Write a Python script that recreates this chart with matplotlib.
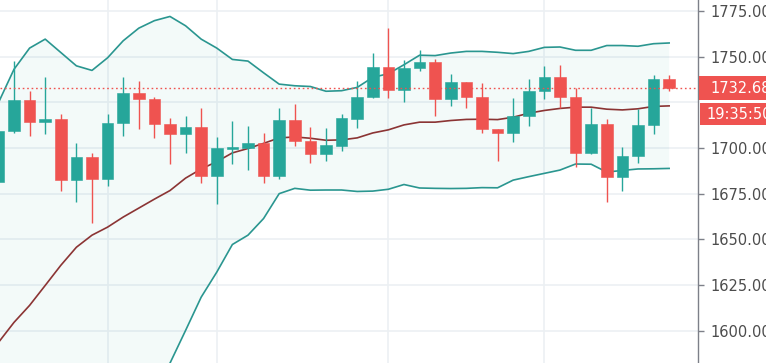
import matplotlib
matplotlib.use("Agg")
import matplotlib.pyplot as plt
from matplotlib.patches import Rectangle
import numpy as np

# ---------------- data ----------------
opens = [1681.5, 1709.3, 1726.3, 1714.1, 1715.9, 1682.6, 1695.1, 1683.2, 1713.9, 1730.0,
         1726.9, 1713.3, 1707.7, 1711.4, 1684.6, 1699.6, 1700.0, 1702.9, 1684.6, 1715.4,
         1703.8, 1696.5, 1701.1, 1715.9, 1727.8, 1744.3, 1731.7, 1743.7, 1747.2, 1726.7,
         1735.8, 1727.8, 1710.4, 1708.4, 1717.4, 1731.3, 1738.8, 1727.6, 1697.4, 1713.2,
         1683.9, 1695.8, 1712.8, 1737.7]
highs = [1712.0, 1747.3, 1730.9, 1738.8, 1718.5, 1702.6, 1697.4, 1718.5, 1738.8, 1736.4,
         1728.1, 1716.3, 1717.6, 1721.8, 1705.9, 1715.0, 1712.1, 1708.1, 1721.8, 1724.0,
         1711.7, 1710.8, 1718.5, 1736.4, 1751.9, 1765.7, 1747.9, 1753.8, 1748.8, 1740.4,
         1736.0, 1735.5, 1710.6, 1727.3, 1737.9, 1745.0, 1745.5, 1732.7, 1721.8, 1715.7,
         1700.4, 1721.2, 1740.0, 1740.0]
lows = [1680.0, 1708.0, 1706.6, 1707.5, 1676.6, 1670.5, 1659.0, 1679.3, 1706.6, 1710.3,
        1705.6, 1691.1, 1697.1, 1681.0, 1669.1, 1691.1, 1687.9, 1681.0, 1683.2, 1701.1,
        1691.6, 1693.0, 1698.5, 1710.8, 1727.5, 1727.3, 1725.1, 1741.9, 1717.2, 1723.2,
        1721.8, 1708.1, 1693.0, 1703.1, 1712.1, 1726.7, 1721.8, 1689.4, 1696.7, 1670.2,
        1676.6, 1691.6, 1707.7, 1731.4]
closes = [1709.5, 1726.3, 1714.1, 1715.9, 1682.6, 1695.1, 1683.2, 1713.9, 1730.0, 1726.7,
          1713.0, 1707.7, 1711.4, 1684.6, 1699.8, 1700.7, 1702.9, 1684.6, 1715.4, 1703.8,
          1696.5, 1701.5, 1716.3, 1727.8, 1744.3, 1731.7, 1743.7, 1747.2, 1726.7, 1735.8,
          1727.6, 1710.3, 1708.4, 1717.4, 1731.3, 1738.8, 1727.6, 1697.4, 1713.2, 1683.9,
          1695.8, 1712.8, 1737.7, 1732.68]

bb_upper = [1724.7, 1743.0, 1754.6, 1759.5, 1752.2, 1744.9, 1742.4, 1749.3, 1758.6, 1765.5,
            1769.6, 1771.9, 1766.8, 1759.5, 1754.6, 1748.4, 1747.5, 1741.1, 1734.9, 1734.0,
            1733.6, 1731.0, 1731.3, 1733.1, 1738.6, 1740.6, 1745.5, 1750.7, 1750.5, 1751.9,
            1752.8, 1752.8, 1752.3, 1751.6, 1752.8, 1755.0, 1755.2, 1753.4, 1753.4, 1756.0,
            1756.0, 1755.6, 1757.0, 1757.4]
bb_mid = [1593.6, 1604.6, 1613.9, 1624.8, 1635.8, 1645.7, 1652.3, 1656.7, 1662.2, 1667.1,
          1672.0, 1676.7, 1683.5, 1688.5, 1692.5, 1697.3, 1699.7, 1702.5, 1705.5, 1706.0,
          1705.3, 1704.2, 1704.4, 1705.5, 1708.2, 1709.9, 1712.6, 1714.1, 1714.1, 1715.0,
          1715.6, 1715.7, 1715.5, 1716.8, 1719.0, 1720.5, 1721.6, 1722.3, 1722.3, 1721.2,
          1720.8, 1721.4, 1722.7, 1723.0]
bb_lower = [1462.0, 1466.0, 1473.0, 1490.0, 1519.0, 1546.5, 1562.2, 1564.1, 1565.8, 1568.7,
            1574.4, 1582.3, 1600.2, 1618.4, 1632.1, 1647.2, 1652.3, 1661.4, 1675.0, 1677.9,
            1676.9, 1677.0, 1677.0, 1676.2, 1676.4, 1677.4, 1680.0, 1678.1, 1677.9, 1677.8,
            1677.9, 1678.3, 1678.2, 1682.4, 1684.3, 1686.1, 1687.9, 1691.2, 1691.1, 1686.8,
            1687.7, 1688.5, 1688.6, 1688.8]

grid_levels = [1600, 1625, 1650, 1675, 1700, 1725, 1750, 1775]
y_ticks = [1600, 1625, 1650, 1675, 1700, 1750, 1775]   # 1725 hidden under price label
v_grid_idx = [7, 14, 25, 35]
countdown = "19:35:50"

# ---------------- styling ----------------
GREEN = "#26a69a"
RED = "#ef5350"
BAND = "#2a9690"
MID = "#8b3434"
GRID = "#ecf0f3"
AX = "#7d8089"
LABEL = "#4c4c4c"

W, H = 766, 363
fig = plt.figure(figsize=(W / 100, H / 100), dpi=100)
ax_right_px = 698
ax = fig.add_axes([0, 0, ax_right_px / W, 1])

x = np.arange(len(opens))
ax.set_xlim(0.103, 44.85)
ax.set_ylim(1582.4, 1780.9)

# grid
for t in grid_levels:
    ax.axhline(t, color=GRID, lw=1.2, zorder=0)
for g in v_grid_idx:
    ax.axvline(g, color=GRID, lw=1.2, zorder=0)

# bollinger bands
ax.fill_between(x, bb_lower, bb_upper, color=GREEN, alpha=0.055, lw=0, zorder=1)
ax.plot(x, bb_upper, color=BAND, lw=1.2, zorder=2)
ax.plot(x, bb_lower, color=BAND, lw=1.2, zorder=2)
ax.plot(x, bb_mid, color=MID, lw=1.2, zorder=2)

# candles
body_w = 0.74
for i in range(len(opens)):
    o, h, l, c = opens[i], highs[i], lows[i], closes[i]
    col = GREEN if c >= o else RED
    ax.vlines(i, l, h, color=col, lw=1.0, zorder=3)
    bottom = min(o, c)
    height = max(abs(c - o), 1.0)
    ax.add_patch(Rectangle((i - body_w / 2, bottom), body_w, height,
                           facecolor=col, edgecolor=col, lw=0.4, zorder=4))

# last price dotted line
last = closes[-1]
ax.axhline(last, color=RED, lw=1.0, ls=(0, (1.2, 2)), zorder=5)

# axes styling
for s in ["top", "left", "bottom"]:
    ax.spines[s].set_visible(False)
ax.spines["right"].set_color(AX)
ax.spines["right"].set_linewidth(1.0)
ax.set_xticks([])
ax.yaxis.tick_right()
ax.set_yticks(y_ticks)
ax.set_yticklabels([f"{t:.2f}" for t in y_ticks])
ax.tick_params(axis="y", length=4, width=1, color=AX, labelcolor=LABEL,
               labelsize=10.5, pad=5)

# price label boxes
fig.canvas.draw()
y_disp = ax.transData.transform((0, last))[1]
y_px_top = H - y_disp  # pixel from top
box1_top = y_px_top - 12
box1_h = 24
fig.add_artist(Rectangle((699 / W, 1 - (box1_top + box1_h) / H), (W - 699) / W, box1_h / H,
                         transform=fig.transFigure, facecolor=RED, edgecolor="none", zorder=10))
fig.text(710 / W, 1 - (box1_top + box1_h / 2) / H, f"{last:.2f}", color="white",
         fontsize=10.5, va="center", ha="left", zorder=11)
box2_top = box1_top + box1_h + 3
box2_h = 22
fig.add_artist(Rectangle((700 / W, 1 - (box2_top + box2_h) / H), (W - 700) / W, box2_h / H,
                         transform=fig.transFigure, facecolor=RED, edgecolor="none", zorder=10))
fig.text(706 / W, 1 - (box2_top + box2_h / 2) / H, countdown, color="white",
         fontsize=10.5, va="center", ha="left", zorder=11)

fig.savefig("out.png", dpi=100)
